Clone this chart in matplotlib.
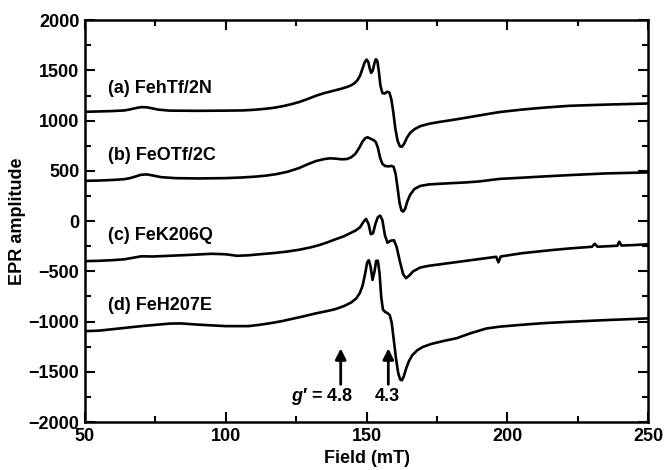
import matplotlib
matplotlib.use("Agg")
import matplotlib.pyplot as plt
from matplotlib.ticker import MultipleLocator

plt.rcParams['font.family'] = ['Liberation Sans', 'DejaVu Sans']
plt.rcParams['font.weight'] = 'bold'
plt.rcParams['mathtext.fontset'] = 'custom'
plt.rcParams['mathtext.it'] = 'Liberation Sans:bold:italic'
plt.rcParams['mathtext.rm'] = 'Liberation Sans:bold'

# spectrum (a) FehTf/2N
field_a = [50, 55, 60, 64, 66, 68, 70, 72, 74, 76, 80, 90, 100, 106, 110, 114, 117,
           120, 123, 126, 129, 132, 135, 138, 141, 143, 144.5, 145.8, 146.8, 147.7,
           148.5, 149.3, 150, 150.6, 151.1, 151.6, 152.2, 152.8, 153.3, 153.8,
           154.3, 154.9, 155.6, 156.4, 157.3, 158.1, 158.8, 159.5, 160.2, 161,
           161.8, 162.5, 163.3, 164.3, 165.5, 167, 169, 172, 176, 180, 185, 190,
           197, 205, 213, 222, 235, 250]
amp_a = [1088, 1092, 1096, 1102, 1112, 1125, 1135, 1133, 1122, 1110, 1100, 1098,
         1100, 1102, 1108, 1118, 1128, 1143, 1162, 1185, 1215, 1248, 1275, 1296,
         1318, 1335, 1352, 1375, 1405, 1450, 1515, 1580, 1608, 1585, 1520, 1475,
         1500, 1575, 1612, 1595, 1500, 1350, 1275, 1270, 1288, 1280, 1210, 1080,
         920, 800, 745, 740, 768, 830, 880, 915, 945, 968, 988, 1005, 1028, 1052,
         1085, 1110, 1130, 1148, 1160, 1171]

# spectrum (b) FeOTf/2C
field_b = [50, 55, 60, 64, 66, 68, 70, 72, 74, 77, 82, 90, 100, 106, 110, 114,
           118, 122, 126, 129, 132, 135, 137, 139, 141, 143, 144.5, 146, 147.3,
           148.5, 149.5, 150.3, 151, 151.8, 152.6, 153.3, 154, 154.8, 155.6,
           156.6, 157.8, 158.8, 159.6, 160.3, 161, 161.7, 162.4, 163, 163.7, 164.5,
           165.5, 167, 169, 172, 176, 180, 185, 190, 197, 205, 213, 222, 235, 250]
amp_b = [401, 404, 410, 418, 428, 445, 462, 465, 455, 438, 428, 425, 428, 435,
         442, 452, 468, 492, 528, 565, 598, 618, 625, 622, 616, 618, 635, 670,
         725, 790, 825, 835, 826, 815, 805, 785, 730, 630, 570, 548, 545, 550,
         540, 470, 330, 180, 105, 95, 125, 200, 265, 320, 350, 365, 372, 378,
         385, 395, 420, 432, 445, 458, 475, 485]

# spectrum (c) FeK206Q
field_c = [50, 55, 60, 64, 67, 70, 74, 80, 88, 95, 100, 104, 108, 112, 118, 122,
           126, 130, 133, 136, 139, 142, 144, 146, 147.7, 148.8, 149.8, 150.7,
           151.5, 152.3, 153.2, 154, 154.8, 155.6, 156.5, 157.4, 158.5, 159.7,
           160.7, 161.8, 163, 164, 165, 166.5, 169, 172, 176, 180, 188, 196, 196.8,
           197.6, 205, 215, 222, 230, 231, 232, 239, 239.7, 240.5, 245, 250]
amp_c = [-398, -395, -388, -380, -365, -350, -352, -345, -335, -325, -330, -345,
         -340, -330, -315, -302, -285, -262, -240, -212, -180, -150, -122, -95,
         -60, -10, 22, -30, -130, -120, -20, 40, 55, 10, -140, -215, -195, -190,
         -260, -400, -530, -568, -545, -500, -462, -445, -430, -415, -385, -355,
         -410, -352, -320, -290, -272, -255, -225, -255, -245, -205, -243, -238,
         -230]

# spectrum (d) FeH207E
field_d = [50, 55, 60, 70, 80, 84, 90, 100, 108, 112, 116, 120, 124, 128, 132,
           136, 139, 142, 144.5, 146.3, 147.6, 148.6, 149.5, 150.2, 150.8, 151.4,
           152.1, 152.8, 153.4, 154, 154.6, 155.2, 155.8, 156.6, 157.4, 158.2,
           158.9, 159.6, 160.4, 161.2, 161.9, 162.5, 163.2, 164, 165, 166.2, 168,
           170, 173, 177, 182, 187, 192.6, 197.4, 205, 213, 222, 235, 250]
amp_d = [-1095, -1090, -1075, -1045, -1020, -1018, -1030, -1045, -1045, -1032,
         -1015, -995, -970, -945, -918, -895, -875, -845, -810, -770, -715, -640,
         -520, -410, -390, -450, -585, -500, -395, -395, -520, -760, -880, -905,
         -915, -935, -1010, -1170, -1360, -1510, -1575, -1585, -1545, -1470,
         -1395, -1335, -1285, -1252, -1222, -1195, -1165, -1115, -1068, -1050,
         -1032, -1015, -1002, -985, -968]

labels = ['(a) FehTf/2N', '(b) FeOTf/2C', '(c) FeK206Q', '(d) FeH207E']
label_y = [1320, 657, -139, -836]

# g' markers
arrow_field = [140.8, 157.7]
arrow_text = ['$g$\u2032 = 4.8', '4.3']

fig = plt.figure(figsize=(6.69, 4.70), dpi=100)
ax = fig.add_axes([0.127, 0.102, 0.842, 0.855])

for f, a in [(field_a, amp_a), (field_b, amp_b), (field_c, amp_c), (field_d, amp_d)]:
    ax.plot(f, a, color='black', lw=1.9, solid_joinstyle='round')

for lab, y in zip(labels, label_y):
    ax.text(58.2, y, lab, fontsize=13, fontweight='bold', va='center', ha='left')

for xf in arrow_field:
    ax.annotate('', xy=(xf, -1267), xytext=(xf, -1625),
                arrowprops=dict(arrowstyle='-|>', color='black', lw=2,
                                mutation_scale=16, shrinkA=0, shrinkB=0))
ax.text(145.4, -1741, arrow_text[0], fontsize=13, ha='right', va='center')
ax.text(157.2, -1741, arrow_text[1], fontsize=13, ha='center', va='center')

ax.set_xlim(50, 250)
ax.set_ylim(-2000, 2000)
ax.xaxis.set_major_locator(MultipleLocator(50))
ax.xaxis.set_minor_locator(MultipleLocator(25))
ax.yaxis.set_major_locator(MultipleLocator(500))
ax.yaxis.set_minor_locator(MultipleLocator(250))
ax.tick_params(which='both', direction='in', top=True, right=True, width=1.5,
               labelsize=13, pad=4)
ax.tick_params(which='major', length=7)
ax.tick_params(which='minor', length=4)
ax.set_yticks([2000, 1500, 1000, 500, 0, -500, -1000, -1500, -2000])
ax.set_yticklabels(['2000', '1500', '1000', '500', '0', '\u2212500', '\u22121000',
                    '\u22121500', '\u22122000'])
for s in ax.spines.values():
    s.set_linewidth(1.8)

ax.set_xlabel('Field (mT)', fontsize=13, fontweight='bold', labelpad=4)
ax.set_ylabel('EPR amplitude', fontsize=13, fontweight='bold', labelpad=2)

fig.savefig('out.png', dpi=100)
